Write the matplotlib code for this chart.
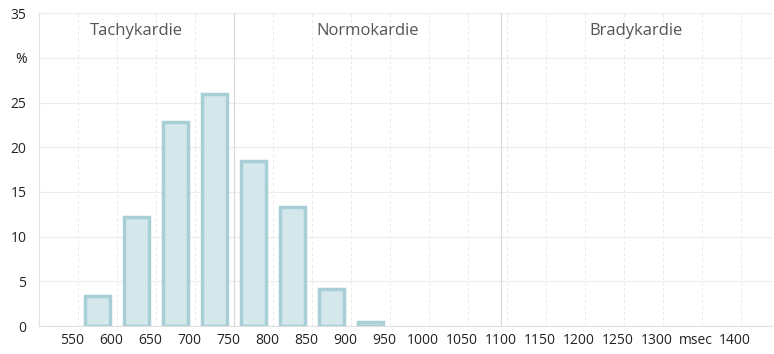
import numpy as np
import matplotlib.pyplot as plt
import matplotlib.transforms as mtransforms

# data
bin_centers = np.array([575, 625, 675, 725, 775, 825, 875, 925])
percent = np.array([3.4, 12.2, 22.8, 25.9, 18.5, 13.3, 4.1, 0.5])
x_ticks = np.arange(550, 1401, 50)
x_labels = [str(t) for t in x_ticks]
x_labels[x_labels.index('1350')] = 'msec'
y_ticks = np.arange(0, 36, 5)
y_labels = [str(t) for t in y_ticks]
y_labels[y_labels.index('30')] = '%'
zones = ['Tachykardie', 'Normokardie', 'Bradykardie']
zone_edges = [500, 750, 1092, 1440]

plt.rcParams['font.family'] = ['Open Sans', 'DejaVu Sans']

fig = plt.figure(figsize=(7.74, 3.54), dpi=100)
ax = fig.add_axes([0.0504, 0.079, 0.947, 0.884])

ax.bar(bin_centers, percent, width=33, color='#d4e7eb', edgecolor='#a8cfd6',
       linewidth=2.5, zorder=3)

ax.set_xlim(zone_edges[0], zone_edges[-1])
ax.set_ylim(0, 35)

# grid
for y in y_ticks:
    ax.axhline(y, color='#ececec', lw=0.8, zorder=0)
for x in x_ticks:
    ax.axvline(x, color='#e8e8e8', lw=0.6, ls=(0, (4, 3)), zorder=0)
for x in zone_edges[1:-1]:
    ax.axvline(x, color='#dadada', lw=0.9, zorder=1)

# zone labels
for name, a, b in zip(zones, zone_edges[:-1], zone_edges[1:]):
    ax.text((a + b) / 2, 33.0, name, ha='center', va='center',
            fontsize=12, color='#555555')

for s in ['top', 'right']:
    ax.spines[s].set_visible(False)
ax.spines['left'].set_color('#e0e0e0')
ax.spines['bottom'].set_color('#e0e0e0')

ax.set_xticks(x_ticks)
ax.set_xticklabels(x_labels, fontsize=10, color='#222222')
ax.set_yticks(y_ticks)
ax.set_yticklabels(y_labels, fontsize=10, color='#222222')
ax.tick_params(length=0)
ax.tick_params(axis='x', pad=5)
ax.tick_params(axis='y', pad=9)

shift = mtransforms.ScaledTranslation(-6 / 100, 0, fig.dpi_scale_trans)
for lbl in ax.get_xticklabels():
    lbl.set_transform(lbl.get_transform() + shift)

fig.savefig('out.png', dpi=100)
